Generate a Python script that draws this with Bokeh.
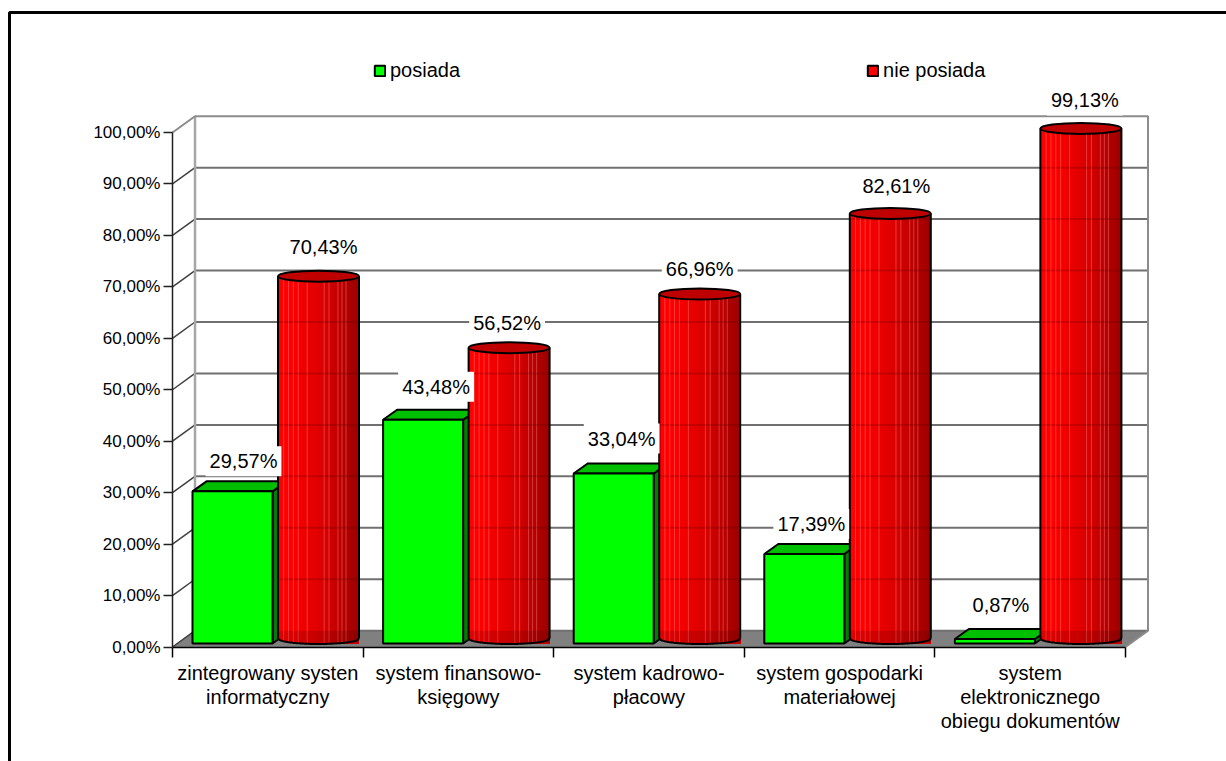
import math

from bokeh.core.properties import value
from bokeh.embed import file_html
from bokeh.models import (BoxAnnotation, ColumnDataSource, FixedTicker, Legend,
                          LegendItem, LinearAxis, Range1d)
from bokeh.plotting import figure
from bokeh.resources import INLINE

categories = [
    "zintegrowany systen\ninformatyczny",
    "system finansowo-\nksięgowy",
    "system kadrowo-\npłacowy",
    "system gospodarki\nmateriałowej",
    "system\nelektronicznego\nobiegu dokumentów",
]
posiada = [29.57, 43.48, 33.04, 17.39, 0.87]
nie_posiada = [70.43, 56.52, 66.96, 82.61, 99.13]
posiada_labels = ["29,57%", "43,48%", "33,04%", "17,39%", "0,87%"]
nie_posiada_labels = ["70,43%", "56,52%", "66,96%", "82,61%", "99,13%"]
y_ticks = [0, 10, 20, 30, 40, 50, 60, 70, 80, 90, 100]
y_tick_labels = ["0,00%", "10,00%", "20,00%", "30,00%", "40,00%", "50,00%",
                 "60,00%", "70,00%", "80,00%", "90,00%", "100,00%"]

# Scale of the plot frame: pixels per category and per percentage point.
PX_X = 190.6
PX_Y = 5.145
FONT = "Liberation Sans"
AXIS_FONT_SIZE = "17px"
LABEL_FONT_SIZE = "20px"

# Depth of the pseudo-3D box, in data units.
WALL_DX = 22.5 / PX_X
WALL_DY = 16.3 / PX_Y

# Column geometry, in data units.
BAR_LEFT = 20 / PX_X
BAR_W = 80 / PX_X
BAR_BASE = 3.5 / PX_Y
BAR_DX = 14 / PX_X
BAR_DY = 10 / PX_Y
CYL_CENTER = 146 / PX_X
CYL_RX = 40.5 / PX_X
CYL_RY = 5.5 / PX_Y
CYL_BASE = 8.5 / PX_Y

p = figure(
    width=1226, height=761, output_backend="svg", toolbar_location=None,
    x_range=Range1d(-172 / PX_X, (1226 - 172) / PX_X),
    y_range=Range1d((646.5 - 761) / PX_Y, 646.5 / PX_Y),
    min_border=0,
    x_axis_type=None, y_axis_type=None, outline_line_color=None,
    background_fill_color="white", border_fill_color="white",
)
p.grid.visible = False

# Floor and back wall of the box.
x_end = len(categories)
inner_ticks = y_ticks[:-1]
p.patch([0, WALL_DX, x_end + WALL_DX, x_end], [0, WALL_DY, WALL_DY, 0],
        fill_color="#808080", line_color="#808080", line_width=1)
p.segment([WALL_DX] * len(inner_ticks), [t + WALL_DY for t in inner_ticks],
          [x_end + WALL_DX] * len(inner_ticks), [t + WALL_DY for t in inner_ticks],
          line_color="#707070", line_width=2)
p.segment([0] * len(inner_ticks), inner_ticks,
          [WALL_DX] * len(inner_ticks), [t + WALL_DY for t in inner_ticks],
          line_color="#404040", line_width=1.5)
p.line([WALL_DX, WALL_DX], [WALL_DY, 100 + WALL_DY], line_color="#a6a6a6", line_width=2.5)
p.line([0, WALL_DX, x_end + WALL_DX, x_end + WALL_DX, x_end],
       [100, 100 + WALL_DY, 100 + WALL_DY, WALL_DY, 0],
       line_color="#8c8c8c", line_width=2)

# Green box columns: side, top, then front face.
lefts = [i + BAR_LEFT for i in range(len(posiada))]
rights = [l + BAR_W for l in lefts]
tops = [BAR_BASE + v for v in posiada]
for l, r, t in zip(lefts, rights, tops):
    p.patch([r, r + BAR_DX, r + BAR_DX, r],
            [BAR_BASE, BAR_BASE + BAR_DY, t + BAR_DY, t],
            fill_color="#007f00", line_color="black", line_width=2)
    p.patch([l, l + BAR_DX, r + BAR_DX, r],
            [t, t + BAR_DY, t + BAR_DY, t],
            fill_color="#00bf00", line_color="black", line_width=2)
green_front = p.quad(left=lefts, right=rights, bottom=[BAR_BASE] * len(posiada), top=tops,
                     fill_color="#00ff00", line_color="black", line_width=2)

# Red cylinders: shaded vertical strips, highlights, outline and cap.
STRIPS = 40
HIGHLIGHTS = [.07, .13, .19, .25, .36, .57, .63, .74, .79, .84]


def shade(t):
    if t < 0.15:
        return 255
    if t < 0.6:
        return int(255 - (t - 0.15) / 0.45 * 40)
    return int(215 - (t - 0.6) / 0.4 * 60)


for i, v in enumerate(nie_posiada):
    cx = i + CYL_CENTER
    top = CYL_BASE + v
    u = [-1 + 2 * k / STRIPS for k in range(STRIPS + 1)]
    mid = [(a + b) / 2 for a, b in zip(u, u[1:])]
    arc = [-1 + 2 * k / 60 for k in range(61)]
    arc_x = [cx + a * CYL_RX for a in arc]
    arc_y = [CYL_BASE - CYL_RY * math.sqrt(1 - a * a) for a in arc]

    # Each strip runs to the right edge, so later strips cover the joins.
    p.quad(left=[cx + a * CYL_RX for a in u[:-1]],
           right=[cx + CYL_RX] * STRIPS,
           top=[top] * STRIPS,
           bottom=[CYL_BASE - CYL_RY * math.sqrt(1 - m * m) for m in mid],
           fill_color=["#%02x0000" % shade((m + 1) / 2) for m in mid],
           line_color=None)
    h_u = [2 * h - 1 for h in HIGHLIGHTS]
    p.segment([cx + a * CYL_RX for a in h_u],
              [CYL_BASE - CYL_RY * math.sqrt(1 - a * a) for a in h_u],
              [cx + a * CYL_RX for a in h_u], [top] * len(h_u),
              line_color="#ff9090", line_alpha=0.4, line_width=1)

    # Floor and grid lines faintly visible through the glassy body.
    p.patch(arc_x + [cx + CYL_RX, cx - CYL_RX],
            arc_y + [WALL_DY, WALL_DY],
            fill_color="#400000", fill_alpha=0.18, line_color=None)
    seen = [t + WALL_DY for t in inner_ticks if 0 < t and t + WALL_DY < top]
    p.segment([cx - CYL_RX] * len(seen), seen, [cx + CYL_RX] * len(seen), seen,
              line_color="#500000", line_alpha=0.22, line_width=2)

    p.line(arc_x, arc_y, line_color="black", line_width=2)
    p.segment([cx - CYL_RX, cx + CYL_RX], [CYL_BASE, CYL_BASE],
              [cx - CYL_RX, cx + CYL_RX], [top, top],
              line_color="black", line_width=2)
    p.ellipse([cx], [top], width=2 * CYL_RX, height=2 * CYL_RY,
              fill_color="#bf0000", line_color="black", line_width=2)

# Renders nothing; supplies the red swatch of the legend.
red_swatch = p.quad(left=[float("nan")], right=[float("nan")], top=[float("nan")],
                    bottom=[float("nan")], fill_color="#ff0000", line_color="black",
                    line_width=2)

# Value labels on white plates.
green_src = ColumnDataSource(dict(
    x=[i + BAR_LEFT + BAR_W / 2 for i in range(len(posiada))],
    y=tops, text=posiada_labels,
    dx=[11, 13, 8, 7, 6], dy=[-30, -33, -35, -30, -34]))
red_src = ColumnDataSource(dict(
    x=[i + CYL_CENTER for i in range(len(nie_posiada))],
    y=[CYL_BASE + v for v in nie_posiada], text=nie_posiada_labels,
    dx=[5, -2, 0, 6, 4], dy=[-29, -25, -25, -27, -28]))
for src in (green_src, red_src):
    p.text("x", "y", text="text", source=src, x_offset="dx", y_offset="dy",
           text_align="center", text_baseline="middle", text_color="black",
           text_font=value(FONT), text_font_size=LABEL_FONT_SIZE,
           background_fill_color="white", padding=4)

# Axes on the front edge of the box.
y_axis = LinearAxis(ticker=FixedTicker(ticks=y_ticks), fixed_location=0, bounds=(0, 100))
y_axis.major_label_overrides = dict(zip(y_ticks, y_tick_labels))
y_axis.axis_line_color = "#202020"
y_axis.axis_line_width = 1.5
y_axis.major_tick_line_color = "#202020"
y_axis.major_tick_line_width = 1.5
y_axis.major_tick_in = 0
y_axis.major_tick_out = 9
y_axis.minor_tick_line_color = None
y_axis.major_label_standoff = 3
y_axis.major_label_text_font = FONT
y_axis.major_label_text_font_size = AXIS_FONT_SIZE
y_axis.major_label_text_color = "black"
p.add_layout(y_axis, "left")

centers = [i + 0.5 for i in range(len(categories))]
boundaries = [float(i) for i in range(len(categories) + 1)]
x_axis = LinearAxis(ticker=FixedTicker(ticks=centers, minor_ticks=boundaries),
                    fixed_location=0, bounds=(0, len(categories)))
x_axis.major_label_overrides = dict(zip(centers, categories))
x_axis.axis_line_color = "black"
x_axis.axis_line_width = 1.5
x_axis.major_tick_line_color = None
x_axis.major_tick_in = 0
x_axis.major_tick_out = 0
x_axis.minor_tick_line_color = "black"
x_axis.minor_tick_line_width = 1.5
x_axis.minor_tick_in = 0
x_axis.minor_tick_out = 10
x_axis.major_label_standoff = 5
x_axis.major_label_text_font = FONT
x_axis.major_label_text_font_size = "20px"
x_axis.major_label_text_color = "black"
x_axis.major_label_text_line_height = 1.1
p.add_layout(x_axis, "below")

legend = Legend(
    items=[LegendItem(label="posiada", renderers=[green_front]),
           LegendItem(label="nie posiada", renderers=[red_swatch])],
    orientation="horizontal", location=(373, 679), spacing=406, padding=0, margin=0,
    glyph_width=13, glyph_height=13, label_standoff=4,
    label_text_font=FONT, label_text_font_size=LABEL_FONT_SIZE, label_text_color="black",
    background_fill_alpha=0, border_line_color=None,
)
p.add_layout(legend, "center")

# Chart border, running off the right and bottom of the page.
p.add_layout(BoxAnnotation(left=9, right=1240, top=749, bottom=-20,
                           left_units="screen", right_units="screen",
                           top_units="screen", bottom_units="screen",
                           fill_alpha=0, line_color="black", line_alpha=1, line_width=3))

open("out.html", "w").write(file_html(p, INLINE))
